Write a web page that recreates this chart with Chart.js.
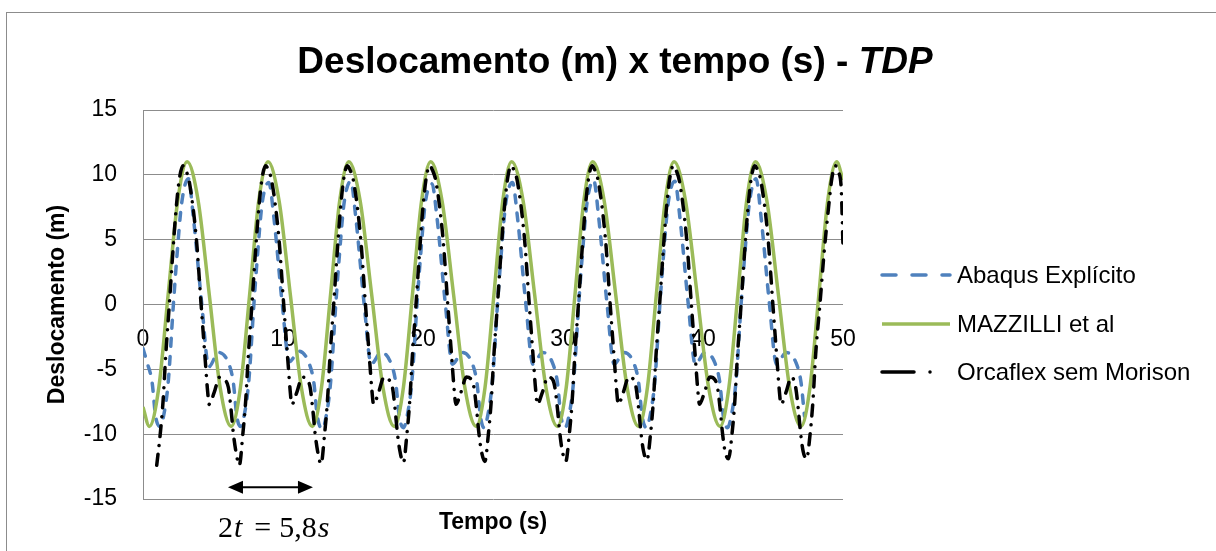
<!DOCTYPE html>
<html>
<head>
<meta charset="utf-8">
<title>Deslocamento x tempo - TDP</title>
<script src="https://cdn.jsdelivr.net/npm/chart.js@4.4.1/dist/chart.umd.min.js"></script>
<style>
  html, body { margin: 0; padding: 0; background: #fff; overflow: hidden; }
  #moldura { position: absolute; left: 6px; top: 12px; width: 1217px; height: 560px; border: 1px solid #8c8c8c; box-sizing: border-box; }
  #caixa { position: absolute; left: 0; top: 0; width: 1216px; height: 551px; }
  #legenda { position: absolute; left: 880px; top: 251px; font-family: "Liberation Sans", Arial, sans-serif; font-size: 24px; color: #000; }
  #legenda .item { display: flex; align-items: center; height: 48.5px; white-space: nowrap; }
  #legenda svg { display: block; margin-right: 5px; }
</style>
</head>
<body>
<div id="moldura"></div>
<div id="caixa"><canvas id="grafico" width="1216" height="551"></canvas></div>
<div id="legenda"></div>
<script>
// Textos
const tituloNormal = 'Deslocamento (m) x tempo (s) - ';
const tituloItalico = 'TDP';
const tituloEixoX = 'Tempo (s)';
const tituloEixoY = 'Deslocamento (m)';
const nomesSeries = ['Abaqus Explícito', 'MAZZILLI et al', 'Orcaflex sem Morison'];

// Eixos
const eixoX = [0, 50, 10];   // min, max, passo
const eixoY = [-15, 15, 5];

// Anotação do período (em unidades dos eixos)
const setaPeriodo = [6.07, 12.14, -14.1]; // t inicial, t final, nível
const textoPeriodo = ['2', 't', '=', '5,8', 's'];

// [tempo (s), deslocamento (m)]
const abaqusExplicito = [
    [0, -3.4], [0.3, -4.5], [0.65, -6.0], [0.9, -8.6],
    [1.2, -9.4], [1.45, -8.7], [1.8, -6.0], [2.17, 0], [2.4, 3.4], [2.76, 7.8], [3.24, 9.7], [3.6, 6.7], [4.2, 0], [4.7, -4.8], [5.4, -3.7], [6.1, -4.5], [6.45, -6.0], [6.7, -8.6],
    [6.95, -9.4], [7.2, -8.7], [7.55, -6.0], [7.92, 0], [8.15, 3.4], [8.51, 7.8], [8.99, 9.4], [9.35, 6.7], [9.95, 0], [10.45, -4.4], [11.15, -3.6], [11.85, -4.5], [12.2, -6.0], [12.45, -8.6],
    [12.8, -9.6], [13.05, -8.8], [13.4, -6.0], [13.77, 0], [14.0, 3.4], [14.36, 7.8], [14.84, 9.5], [15.2, 6.7], [15.8, 0], [16.3, -4.6], [17.0, -3.7], [17.7, -4.5], [18.05, -6.0], [18.3, -8.6],
    [18.6, -9.5], [18.85, -8.7], [19.2, -6.0], [19.57, 0], [19.8, 3.4], [20.16, 7.8], [20.64, 9.3], [21.0, 6.7], [21.6, 0], [22.1, -4.6], [22.8, -3.7], [23.5, -4.5], [23.85, -6.0], [24.1, -8.6],
    [24.35, -9.5], [24.6, -8.7], [24.95, -6.0], [25.32, 0], [25.55, 3.4], [25.91, 7.8], [26.39, 9.4], [26.75, 6.7], [27.35, 0], [27.85, -4.6], [28.55, -3.7], [29.25, -4.5], [29.6, -6.0], [29.85, -8.6],
    [30.15, -9.5], [30.4, -8.7], [30.75, -6.0], [31.12, 0], [31.35, 3.4], [31.71, 7.8], [32.19, 9.6], [32.55, 6.7], [33.15, 0], [33.65, -4.6], [34.35, -3.7], [35.05, -4.5], [35.4, -6.0], [35.65, -8.6],
    [35.95, -9.5], [36.2, -8.7], [36.55, -6.0], [36.92, 0], [37.15, 3.4], [37.51, 7.8], [37.99, 9.5], [38.35, 6.7], [38.95, 0], [39.45, -4.6], [40.15, -3.7], [40.85, -4.5], [41.2, -6.0], [41.45, -8.6],
    [41.75, -9.5], [42.0, -8.7], [42.35, -6.0], [42.72, 0], [42.95, 3.4], [43.31, 7.8], [43.79, 9.7], [44.15, 6.7], [44.75, 0], [45.25, -4.6], [45.95, -3.7], [46.65, -4.5], [47.0, -6.0], [47.25, -8.6]
];

const mazzilli = [
    [0, -7.9], [0.45, -9.4],
    [1.13, -6.4], [1.8, 0.8], [2.48, 8.0], [3.15, 11.0], [3.94, 8.0], [4.73, 0.8], [5.51, -6.4], [6.3, -9.4],
    [6.96, -6.4], [7.62, 0.8], [8.27, 8.0], [8.93, 11.0], [9.72, 8.0], [10.52, 0.8], [11.31, -6.4], [12.1, -9.4],
    [12.75, -6.4], [13.4, 0.8], [14.05, 8.0], [14.7, 11.0], [15.51, 8.0], [16.33, 0.8], [17.14, -6.4], [17.95, -9.4],
    [18.6, -6.4], [19.25, 0.8], [19.9, 8.0], [20.55, 11.0], [21.36, 8.0], [22.18, 0.8], [22.99, -6.4], [23.8, -9.4],
    [24.43, -6.4], [25.07, 0.8], [25.7, 8.0], [26.33, 11.0], [27.15, 8.0], [27.97, 0.8], [28.78, -6.4], [29.6, -9.4],
    [30.23, -6.4], [30.86, 0.8], [31.49, 8.0], [32.12, 11.0], [32.94, 8.0], [33.76, 0.8], [34.58, -6.4], [35.4, -9.4],
    [36.03, -6.4], [36.67, 0.8], [37.3, 8.0], [37.93, 11.0], [38.75, 8.0], [39.58, 0.8], [40.4, -6.4], [41.22, -9.4],
    [41.85, -6.4], [42.49, 0.8], [43.12, 8.0], [43.75, 11.0], [44.56, 8.0], [45.38, 0.8], [46.19, -6.4], [47.0, -9.4],
    [47.64, -6.4], [48.28, 0.8], [48.91, 8.0], [49.55, 11.0], [50, 9.6]
];

const orcaflex = [
    [0.98, -12.4], [1.23, -10.0], [1.43, -7.5], [1.63, -3.8], [1.88, 0], [2.13, 4.0], [2.36, 7.3], [2.6, 9.7], [2.86, 10.7], [3.08, 10.3], [3.3, 9.5], [3.8, 5.2], [4.15, 0], [4.48, -4.8], [4.6, -6.5], [4.73, -7.7], [5.08, -6.8], [5.48, -5.6], [5.83, -5.8], [6.1, -6.4], [6.28, -8.0], [6.45, -9.9], [6.63, -11.3],
    [6.88, -12.4], [7.13, -10.0], [7.33, -7.5], [7.53, -3.8], [7.78, 0], [8.03, 4.0], [8.26, 7.3], [8.5, 9.7], [8.76, 10.7], [8.98, 10.3], [9.2, 9.5], [9.7, 5.2], [10.05, 0], [10.38, -4.8], [10.5, -6.5], [10.63, -7.7], [10.98, -6.8], [11.38, -5.6], [11.73, -5.8], [11.94, -6.4], [12.12, -8.0], [12.29, -9.9], [12.47, -11.3],
    [12.72, -12.3], [12.97, -10.0], [13.17, -7.5], [13.37, -3.8], [13.62, 0], [13.87, 4.0], [14.1, 7.3], [14.34, 9.7], [14.6, 10.7], [14.82, 10.3], [15.04, 9.5], [15.54, 5.2], [15.89, 0], [16.22, -4.8], [16.34, -6.5], [16.47, -7.7], [16.82, -6.8], [17.22, -5.6], [17.57, -5.8], [17.82, -6.4], [18.0, -8.0], [18.17, -9.9], [18.35, -11.3],
    [18.6, -12.2], [18.85, -10.0], [19.05, -7.5], [19.25, -3.8], [19.5, 0], [19.75, 4.0], [19.98, 7.3], [20.22, 9.7], [20.48, 10.7], [20.7, 10.3], [20.92, 9.5], [21.42, 5.2], [21.77, 0], [22.1, -4.8], [22.22, -6.5], [22.35, -7.7], [22.7, -6.8], [23.1, -5.6], [23.45, -5.8], [23.64, -6.4], [23.82, -8.0], [23.99, -9.9], [24.17, -11.3],
    [24.42, -12.1], [24.67, -10.0], [24.87, -7.5], [25.07, -3.8], [25.32, 0], [25.57, 4.0], [25.8, 7.3], [26.04, 9.7], [26.3, 10.7], [26.52, 10.3], [26.74, 9.5], [27.24, 5.2], [27.59, 0], [27.92, -4.8], [28.04, -6.5], [28.17, -7.7], [28.52, -6.8], [28.92, -5.6], [29.27, -5.8], [29.42, -6.4], [29.6, -8.0], [29.77, -9.9], [29.95, -11.3],
    [30.2, -12.1], [30.45, -10.0], [30.65, -7.5], [30.85, -3.8], [31.1, 0], [31.35, 4.0], [31.58, 7.3], [31.82, 9.7], [32.08, 10.7], [32.3, 10.3], [32.52, 9.5], [33.02, 5.2], [33.37, 0], [33.7, -4.8], [33.82, -6.5], [33.95, -7.7], [34.3, -6.8], [34.7, -5.6], [35.05, -5.8], [35.22, -6.4], [35.4, -8.0], [35.57, -9.9], [35.75, -11.3],
    [36.0, -12.0], [36.25, -10.0], [36.45, -7.5], [36.65, -3.8], [36.9, 0], [37.15, 4.0], [37.38, 7.3], [37.62, 9.7], [37.88, 10.7], [38.1, 10.3], [38.32, 9.5], [38.82, 5.2], [39.17, 0], [39.5, -4.8], [39.62, -6.5], [39.75, -7.7], [40.1, -6.8], [40.5, -5.6], [40.85, -5.8], [41.04, -6.4], [41.22, -8.0], [41.39, -9.9], [41.57, -11.3],
    [41.82, -11.9], [42.07, -10.0], [42.27, -7.5], [42.47, -3.8], [42.72, 0], [42.97, 4.0], [43.2, 7.3], [43.44, 9.7], [43.7, 10.7], [43.92, 10.3], [44.14, 9.5], [44.64, 5.2], [44.99, 0], [45.32, -4.8], [45.44, -6.5], [45.57, -7.7], [45.92, -6.8], [46.32, -5.6], [46.62, -6.4], [46.8, -8.0], [46.97, -9.9], [47.15, -11.3],
    [47.4, -11.9], [47.65, -10.0], [47.85, -7.5], [48.05, -3.8], [48.35, 0], [48.65, 4.0], [48.95, 7.3], [49.2, 9.7], [49.45, 10.7], [49.7, 10.2], [49.88, 8.8], [50.0, 4.5]
];

// Estilos
const cores = ['#4F81BD', '#9BBB59', '#000000'];
const tracosLinha = [[8, 10], [], [11, 9, 0.01, 9]];
const tracosLegenda = ['14 16', '', '32 16 0.01 40'];
const fonte = '"Liberation Sans", Arial, sans-serif';

Chart.defaults.font.family = fonte;
Chart.defaults.color = '#000';

const toXY = pts => pts.map(p => ({ x: p[0], y: p[1] }));

// Legenda em HTML, montada a partir dos datasets
const legendaHtml = {
    id: 'legendaHtml',
    afterUpdate(chart) {
        const caixa = document.getElementById('legenda');
        caixa.innerHTML = '';
        chart.data.datasets.forEach((ds, i) => {
            const item = document.createElement('div');
            item.className = 'item';
            const cap = ds.borderCapStyle || 'butt';
            item.innerHTML =
                '<svg width="72" height="10"><line x1="2" y1="5" x2="70" y2="5" stroke="' + ds.borderColor +
                '" stroke-width="' + ds.borderWidth + '" stroke-linecap="' + cap + '"' +
                (tracosLegenda[i] ? ' stroke-dasharray="' + tracosLegenda[i] + '"' : '') + '/></svg>';
            const txt = document.createElement('span');
            txt.textContent = ds.label;
            item.appendChild(txt);
            caixa.appendChild(item);
        });
    }
};

// Título, título do eixo X e anotação do período
const decoracao = {
    id: 'decoracao',
    afterDraw(chart) {
        const { ctx, chartArea, scales: { x, y } } = chart;
        ctx.save();
        ctx.fillStyle = '#000';
        ctx.strokeStyle = '#000';
        ctx.textBaseline = 'alphabetic';

        // título com "TDP" em itálico
        ctx.font = 'bold 37px ' + fonte;
        const w1 = ctx.measureText(tituloNormal).width;
        ctx.font = 'italic bold 37px ' + fonte;
        const w2 = ctx.measureText(tituloItalico).width;
        const tx = 615 - (w1 + w2) / 2;
        ctx.font = 'bold 37px ' + fonte;
        ctx.textAlign = 'left';
        ctx.fillText(tituloNormal, tx, 73);
        ctx.font = 'italic bold 37px ' + fonte;
        ctx.fillText(tituloItalico, tx + w1, 73);

        // título do eixo X
        ctx.font = 'bold 23px ' + fonte;
        ctx.textAlign = 'center';
        ctx.fillText(tituloEixoX, (chartArea.left + chartArea.right) / 2, 529);

        // seta dupla
        const xa = x.getPixelForValue(setaPeriodo[0]);
        const xb = x.getPixelForValue(setaPeriodo[1]);
        const ya = y.getPixelForValue(setaPeriodo[2]);
        ctx.lineWidth = 2;
        ctx.beginPath();
        ctx.moveTo(xa + 10, ya);
        ctx.lineTo(xb - 10, ya);
        ctx.stroke();
        ctx.beginPath();
        ctx.moveTo(xa, ya); ctx.lineTo(xa + 15, ya - 6.5); ctx.lineTo(xa + 15, ya + 6.5); ctx.closePath();
        ctx.moveTo(xb, ya); ctx.lineTo(xb - 15, ya - 6.5); ctx.lineTo(xb - 15, ya + 6.5); ctx.closePath();
        ctx.fill();

        // 2t = 5,8s
        const serif = '"Liberation Serif", "DejaVu Serif", serif';
        const estilos = ['', 'italic ', '', '', 'italic '];
        const espacos = [0, 1, 12, 8, 1];
        let px = 218;
        ctx.textAlign = 'left';
        textoPeriodo.forEach((s, i) => {
            px += espacos[i];
            ctx.font = estilos[i] + '30px ' + serif;
            ctx.fillText(s, px, 537);
            px += ctx.measureText(s).width;
        });
        ctx.restore();
    }
};

const graficoCtx = document.getElementById('grafico').getContext('2d');

const series = [abaqusExplicito, mazzilli, orcaflex];
const datasets = series.map((pts, i) => ({
    label: nomesSeries[i],
    data: toXY(pts),
    borderColor: cores[i],
    backgroundColor: cores[i],
    borderWidth: 3.5,
    borderDash: tracosLinha[i],
    borderCapStyle: tracosLinha[i].length ? 'round' : 'butt',
    pointRadius: 0,
    cubicInterpolationMode: 'monotone',
    order: 2 - i
}));

new Chart(graficoCtx, {
    type: 'line',
    data: { datasets: datasets },
    options: {
        responsive: false,
        animation: false,
        devicePixelRatio: 1,
        layout: { padding: { top: 110, bottom: 52, left: 0, right: 373 } },
        scales: {
            x: {
                type: 'linear',
                min: eixoX[0],
                max: eixoX[1],
                position: { y: 0 },
                grid: { display: false, drawTicks: false },
                border: { display: false },
                ticks: { stepSize: eixoX[2], padding: 21, maxRotation: 0, font: { size: 23 } }
            },
            y: {
                min: eixoY[0],
                max: eixoY[1],
                grid: { color: '#8c8c8c', lineWidth: 1, drawTicks: false },
                border: { display: true, color: '#8c8c8c', width: 1 },
                ticks: { stepSize: eixoY[2], padding: 26, font: { size: 23 } },
                title: { display: true, text: tituloEixoY, font: { size: 23, weight: 'bold' }, padding: { top: 44, bottom: 0 } },
                afterFit(scale) { scale.width = 143; }
            }
        },
        plugins: {
            tooltip: { enabled: false },
            legend: { display: false }
        }
    },
    plugins: [legendaHtml, decoracao]
});
</script>
</body>
</html>
